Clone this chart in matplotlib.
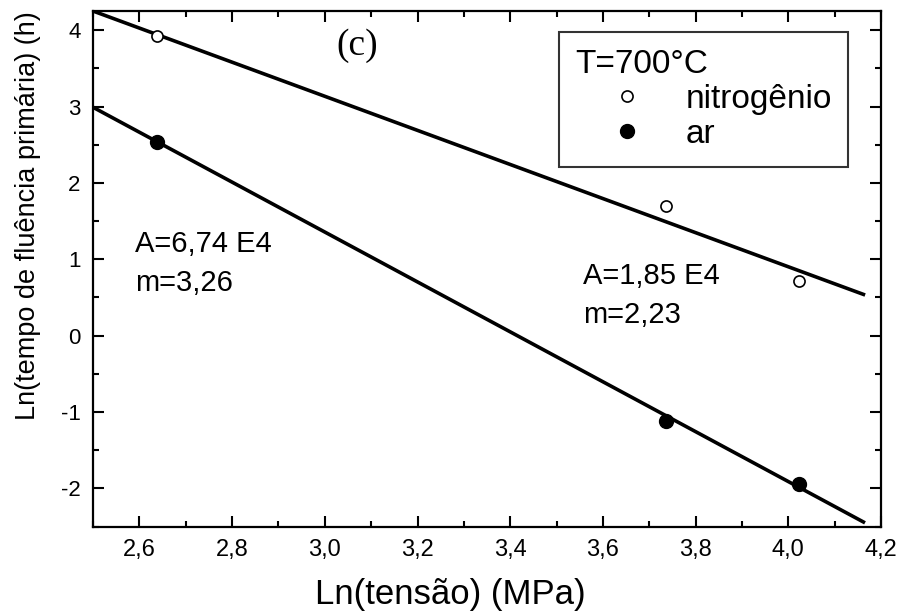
import matplotlib
matplotlib.use("Agg")
import matplotlib.pyplot as plt
from matplotlib.ticker import MultipleLocator, FuncFormatter
from matplotlib.lines import Line2D

plt.rcParams.update({
    "font.family": ["Liberation Sans", "DejaVu Sans"],
    "font.size": 16,
    "axes.unicode_minus": False,
})

# data
ln_tensao = [2.638, 3.737, 4.023]
ln_tempo_nitrogenio = [3.92, 1.70, 0.71]
ln_tempo_ar = [2.54, -1.12, -1.94]

# fitted lines (end points)
fit_x = [2.5, 4.162]
fit_nitrogenio = [4.25, 0.54]
fit_ar = [2.99, -2.44]


def comma(v, pos):
    return f"{v:.1f}".replace(".", ",")


fig = plt.figure(figsize=(8.98, 6.13), dpi=100)
ax = fig.add_axes([0.1036, 0.141, 0.8775, 0.841])

ax.plot(fit_x, fit_nitrogenio, color="black", lw=2.6)
ax.plot(fit_x, fit_ar, color="black", lw=2.6)
ax.plot(ln_tensao, ln_tempo_nitrogenio, "o", ms=8, mfc="white", mec="black", mew=1.2)
ax.plot(ln_tensao, ln_tempo_ar, "o", ms=10, mfc="black", mec="black")

ax.set_xlim(2.5, 4.2)
ax.set_ylim(-2.5, 4.25)
ax.xaxis.set_major_locator(MultipleLocator(0.2))
ax.xaxis.set_minor_locator(MultipleLocator(0.1))
ax.yaxis.set_major_locator(MultipleLocator(1))
ax.yaxis.set_minor_locator(MultipleLocator(0.5))
ax.xaxis.set_major_formatter(FuncFormatter(comma))
ax.tick_params(which="both", direction="in", top=True, right=True, width=1.5)
ax.tick_params(which="major", length=8)
ax.tick_params(which="minor", length=4.5)
ax.tick_params(axis="x", which="major", pad=9, labelsize=17)
ax.tick_params(axis="y", which="major", pad=9, labelsize=16)
for s in ax.spines.values():
    s.set_linewidth(1.6)

ax.set_xlabel("Ln(tensão) (MPa)", fontsize=25)
ax.xaxis.set_label_coords(0.453, -0.10)
ax.set_ylabel("Ln(tempo de fluência primária) (h)", fontsize=19.5)
ax.yaxis.set_label_coords(-0.066, 0.604)

ax.text(2.59, 0.95, "A=6,74 E4\nm=3,26", fontsize=21, linespacing=1.5, va="center")
ax.text(3.558, 0.52, "A=1,85 E4\nm=2,23", fontsize=21, linespacing=1.5, va="center")
ax.text(3.07, 3.8, "(c)", fontsize=27, family="Liberation Serif", ha="center", va="center")

handles = [
    Line2D([], [], ls="none", marker="o", ms=8, mfc="white", mec="black", mew=1.2),
    Line2D([], [], ls="none", marker="o", ms=10, mfc="black", mec="black"),
]
leg = ax.legend(handles, ["nitrogênio", "ar"], title="T=700°C", loc="upper left",
                bbox_to_anchor=(0.591, 0.959), fontsize=24, title_fontsize=24,
                frameon=True, fancybox=False, edgecolor="black",
                handlelength=3.1, handletextpad=0.2, borderpad=0.5,
                labelspacing=0.12, alignment="left", borderaxespad=0)
leg.get_frame().set_linewidth(1.5)

fig.savefig("out.png", dpi=100)
